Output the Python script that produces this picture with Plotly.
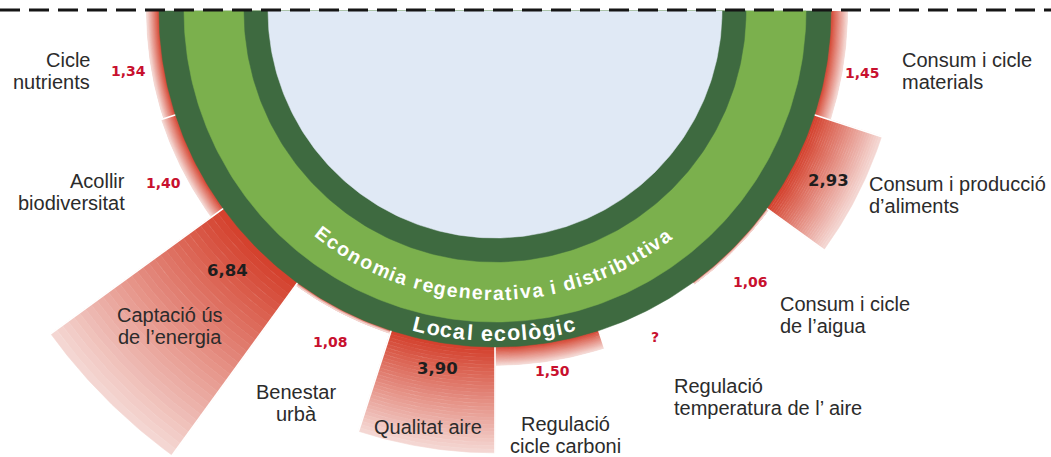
import numpy as np
import plotly.graph_objects as go

# ---------------- data ----------------
categories = [
    "Cicle nutrients", "Acollir biodiversitat", "Captació ús de l’energia",
    "Benestar urbà", "Qualitat aire", "Regulació cicle carboni",
    "Regulació temperatura de l’ aire", "Consum i cicle de l’aigua",
    "Consum i producció d’aliments", "Consum i cicle materials",
]
category_lines = [
    ["Cicle", "nutrients"],
    ["Acollir", "biodiversitat"],
    ["Captació ús", "de l’energia"],
    ["Benestar", "urbà"],
    ["Qualitat aire"],
    ["Regulació", "cicle carboni"],
    ["Regulació", "temperatura de l’ aire"],
    ["Consum i cicle", "de l’aigua"],
    ["Consum i producció", "d’aliments"],
    ["Consum i cicle", "materials"],
]
values = [1.34, 1.40, 6.84, 1.08, 3.90, 1.50, None, 1.06, 2.93, 1.45]
value_text = ["1,34", "1,40", "6,84", "1,08", "3,90", "1,50", "?", "1,06", "2,93", "1,45"]
ring_inner_text = "Economia regenerativa i distributiva"
ring_outer_text = "Local ecològic"

# ---------------- layout / geometry ----------------
W, H = 1051, 457
CX, CY = 495, 11
R_BLUE, R_DARK_IN, R_LIGHT, R_OUT = 227, 251, 311, 336
PX_PER_UNIT = 36.5          # radial scale: value 1 = outer edge of the doughnut
N_SECT = len(values)
SECT = 180.0 / N_SECT

C_BLUE = "rgb(224,233,245)"
C_DARK = "rgb(62,106,64)"
C_LIGHT = "rgb(123,176,77)"
RED_IN = np.array([212, 66, 46])
RED_OUT = np.array([244, 214, 210])

# label anchors (pixel space): x, y-centre, anchor
label_pos = [
    (92, 71, "right"), (127, 192, "right"), (170, 326, "center"),
    (296, 403, "center"), (428, 427, "center"), (565, 435, "center"),
    (672, 397, "left"), (778, 315, "left"), (867, 195, "left"),
    (900, 71, "left"),
]
value_pos = [
    (128, 71), (163, 183), (227, 270), (330, 342), (437, 368),
    (552, 371), (655, 337), (750, 282), (828, 180), (862, 73),
]


def radius(v):
    return R_OUT + PX_PER_UNIT * (v - 1.0)


def pt(r, phi):
    a = np.radians(phi)
    return CX + r * np.sin(a), CY + r * np.cos(a)


def sector(r0, r1, p0, p1, n=40):
    ph = np.linspace(p0, p1, n)
    xo, yo = pt(r1, ph)
    xi, yi = pt(r0, ph[::-1])
    xs = np.concatenate([xo, xi, xo[:1]])
    ys = np.concatenate([yo, yi, yo[:1]])
    return list(xs), list(ys)


fig = go.Figure()

# ---- gradient wedges (one trace per gradient band) ----
NB = 30
for k in range(NB):
    t = k / (NB - 1)
    col = RED_IN + (RED_OUT - RED_IN) * t
    c = "rgb(%d,%d,%d)" % tuple(col.round().astype(int))
    xs, ys = [], []
    for i, v in enumerate(values):
        if v is None:
            continue
        r_end = radius(v)
        ra = R_OUT + (r_end - R_OUT) * k / NB
        rb = R_OUT + (r_end - R_OUT) * (k + 1) / NB
        if k == 0:
            ra = R_OUT - 4
        p0 = -90 + i * SECT
        p1 = p0 + SECT
        sx, sy = sector(ra, rb, p0, p1)
        xs += sx + [None]
        ys += sy + [None]
    fig.add_trace(go.Scatter(x=xs, y=ys, mode="lines", fill="toself",
                             fillcolor=c, line=dict(color=c, width=0.6),
                             hoverinfo="skip"))

# ---- white separators between sectors ----
sx, sy = [], []
for i in range(N_SECT - 1):
    a = values[i] if values[i] is not None else 1.0
    b = values[i + 1] if values[i + 1] is not None else 1.0
    rmax = radius(max(a, b)) + 1
    phi = -90 + (i + 1) * SECT
    x0, y0 = pt(R_OUT - 2, phi)
    x1, y1 = pt(rmax, phi)
    sx += [x0, x1, None]
    sy += [y0, y1, None]
fig.add_trace(go.Scatter(x=sx, y=sy, mode="lines",
                         line=dict(color="white", width=1.6), hoverinfo="skip"))

# ---- doughnut rings ----
for r, c in [(R_OUT, C_DARK), (R_LIGHT, C_LIGHT), (R_DARK_IN, C_DARK), (R_BLUE, C_BLUE)]:
    xs, ys = sector(0, r, -90, 90, n=200)
    fig.add_trace(go.Scatter(x=xs, y=ys, mode="lines", fill="toself",
                             fillcolor=c, line=dict(color=c, width=0.5),
                             hoverinfo="skip"))

annotations = []

# ---- curved text ----
ARIAL_BOLD = {
    " ": 278, "a": 556, "b": 611, "c": 556, "d": 611, "e": 556, "g": 611,
    "i": 278, "l": 278, "m": 889, "n": 611, "o": 611, "r": 389, "s": 556,
    "t": 333, "u": 611, "v": 556, "E": 667, "L": 611, "ò": 611,
}


def arc_text(text, r, phi_first, phi_last, fs, color):
    w = [ARIAL_BOLD.get(ch, 556) * fs / 1000.0 for ch in text]
    cum = np.cumsum([0] + w[:-1])
    centers = cum + np.array(w) / 2.0
    centers = centers - centers[0]
    L = r * np.radians(phi_last - phi_first)
    gap = (L - centers[-1]) / (len(text) - 1)
    for j, ch in enumerate(text):
        if ch == " ":
            continue
        s = centers[j] + j * gap
        phi = phi_first + np.degrees(s / r)
        x, y = pt(r, phi)
        annotations.append(dict(
            x=x, y=y, xref="x", yref="y", text=ch, showarrow=False,
            xanchor="center", yanchor="middle", textangle=-phi,
            font=dict(family="Liberation Sans, Arial, sans-serif",
                      size=fs, color=color, weight="bold")))


arc_text(ring_inner_text, 282, -37.6, 37.0, 19.5, "white")
arc_text(ring_outer_text, 323, -13.6, 13.3, 21.5, "white")

# ---- category labels ----
LINE_PITCH = 22
for lines, (x, yc, anc) in zip(category_lines, label_pos):
    n = len(lines)
    for j, ln in enumerate(lines):
        y = yc + (j - (n - 1) / 2.0) * LINE_PITCH
        annotations.append(dict(
            x=x, y=y, xref="x", yref="y", text=ln, showarrow=False,
            xanchor=anc, yanchor="middle", align=anc,
            font=dict(family="Liberation Sans, Arial, sans-serif",
                      size=20, color="#2b2b2b")))

# ---- value labels ----
for v, txt, (x, y) in zip(values, value_text, value_pos):
    big = v is not None and v >= 2
    annotations.append(dict(
        x=x, y=y, xref="x", yref="y", text=txt, showarrow=False,
        xanchor="center", yanchor="middle",
        font=dict(family="DejaVu Sans, sans-serif", weight="bold",
                  size=16.5 if big else 14,
                  color="#1e1e1e" if big else "#c8102e")))

fig.update_layout(
    width=W, height=H,
    margin=dict(l=0, r=0, t=0, b=0),
    paper_bgcolor="white", plot_bgcolor="white",
    showlegend=False, hovermode=False,
    xaxis=dict(range=[0, W], visible=False, fixedrange=True),
    yaxis=dict(range=[H, 0], visible=False, fixedrange=True),
    annotations=annotations,
    shapes=[dict(type="line", xref="paper", yref="y", x0=0, x1=1, y0=10, y1=10,
                 line=dict(color="#151515", width=3, dash="20px,9px"))],
)

fig.write_html("out.html", config={"displayModeBar": False},
               post_script="document.body.style.margin='0px';"
                           "document.body.style.overflow='hidden';")
